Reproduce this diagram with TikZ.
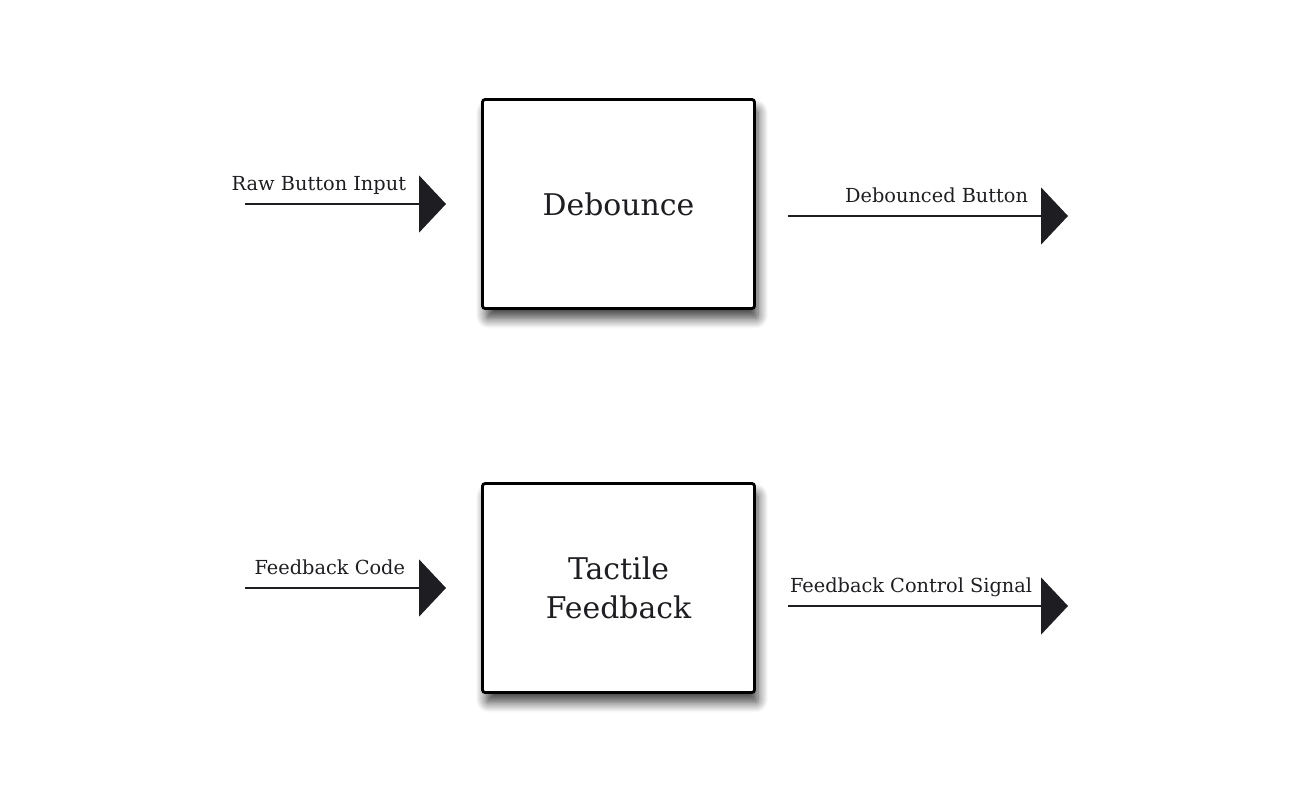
\documentclass[tikz,border=0pt]{standalone}
\usepackage{fontspec}
\setmainfont{DejaVu Serif}
\usepackage{xcolor}
\usepackage{tikz}
\usetikzlibrary{arrows.meta}
\usetikzlibrary{shadows.blur}
\usetikzlibrary{positioning}
\definecolor{inkdark}{HTML}{1E1E22}
\tikzset{
    block/.style={
      rectangle,
      rounded corners=1.5pt,
      draw=black, line width=1.6pt,
      fill=white,
      minimum width=5.44cm,
      minimum height=4.18cm,
      inner sep=2pt,
      text centered,
      align=center,
      text=inkdark,
      font=\fontsize{17}{22}\selectfont,
      blur shadow={shadow xshift=0.07cm, shadow yshift=-0.2cm,
        shadow blur radius=0.2cm, shadow blur steps=10, shadow opacity=75},
    },
    signal/.style={
      ->, draw=inkdark, line width=1.1pt,
    },
    siglabel/.style={
      anchor=base east,
      inner sep=0pt,
      text=inkdark,
      font=\fontsize{11}{13}\selectfont,
      xshift=-0.78cm, yshift=0.27cm,
    },
}
\begin{document}
\begin{tikzpicture}[>={Triangle[length=0.54cm, width=1.14cm]}]
    \useasboundingbox (0,0) rectangle (26,-15.84);

    \node[block] (DEB) at (12.37,-4.08) {\raisebox{-1pt}{Debounce}};

    \node[block,
    below of=DEB,
    node distance=7.68cm] (TAC) {Tactile\\Feedback};

    \coordinate[left of=DEB, node distance=7.47cm] (RAWIN);
    \coordinate[left of=DEB, node distance=3.45cm] (RAWEND);
    \coordinate[right of=DEB, node distance=3.39cm, yshift=-0.24cm] (DEBOUT);
    \coordinate[right of=DEB, node distance=8.99cm, yshift=-0.24cm] (DEBEND);

    \coordinate[left of=TAC, node distance=7.47cm] (CODEIN);
    \coordinate[left of=TAC, node distance=3.45cm] (CODEEND);
    \coordinate[right of=TAC, node distance=3.39cm, yshift=-0.36cm] (TACOUT);
    \coordinate[right of=TAC, node distance=8.99cm, yshift=-0.36cm] (TACEND);

    \path
    (RAWIN) edge[signal] node[siglabel, at end] {Raw Button Input} (RAWEND)

    (DEBOUT) edge[signal] node[siglabel, at end] {Debounced Button} (DEBEND)

    (CODEIN) edge[signal] node[siglabel, at end, xshift=-0.02cm] {Feedback Code} (CODEEND)

    (TACOUT) edge[signal] node[siglabel, at end, xshift=0.08cm] {Feedback Control Signal} (TACEND);

\end{tikzpicture}
\end{document}
